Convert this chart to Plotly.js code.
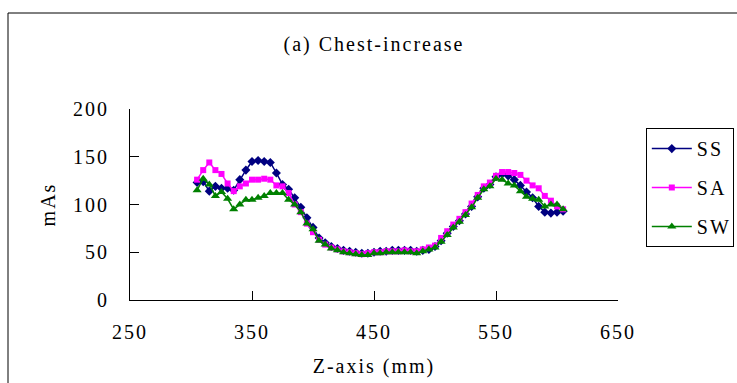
<!DOCTYPE html>
<html>
<head>
<meta charset="utf-8">
<script src="https://cdn.plot.ly/plotly-3.0.1.min.js"></script>
<style>
  html, body { margin: 0; padding: 0; background: #fff; }
  #chart { width: 737px; height: 383px; }
  #chart svg text { letter-spacing: 2px; }
</style>
</head>
<body>
<div id="chart"></div>
<script>
const zAxis = [305,310,315,320,325,330,335,340,345,350,355,360,365,370,375,380,385,390,395,400,
  405,410,415,420,425,430,435,440,445,450,455,460,465,470,475,480,485,490,495,500,
  505,510,515,520,525,530,535,540,545,550,555,560,565,570,575,580,585,590,595,600,605];

const ss = [123,124,114,119,117,117,115,126,136,145,146,145,144,133,121,116,107,97,86,76,
  65,60,56,54,52,51,50,49,49,50,51,51,52,52,52,52,51,52,53,56,
  62,70,77,83,90,98,108,117,121,129,132,130,126,120,113,107,98,92,91,92,93];

const sa = [126,136,144,136,132,122,114,119,122,126,126,127,126,120,119,112,100,92,80,71,
  63,58,55,53,51,50,49,48,49,50,50,51,51,51,52,51,51,53,55,57,
  65,72,79,85,92,101,110,119,123,130,134,134,133,131,125,120,117,109,104,98,95];

const sw = [115,127,121,109,113,106,95,100,105,105,107,109,112,112,112,105,100,92,80,74,
  62,58,54,52,50,49,48,47,47,49,49,50,50,50,50,50,49,51,53,55,
  61,68,76,82,89,97,107,116,119,127,126,122,120,114,108,106,105,98,100,100,95];

const seriesNames = ['SS', 'SA', 'SW'];
const xTicks = [250, 350, 450, 550, 650];
const yTicks = [0, 50, 100, 150, 200];

const font = 'Liberation Serif, Times New Roman, serif';

const traces = [
  {x: zAxis, y: ss, name: seriesNames[0], legendgroup: 'a', mode: 'lines+markers',
   line: {color: '#000080', width: 1.5}, marker: {symbol: 'diamond', size: 7, color: '#000080'}},
  {x: zAxis, y: sa, name: seriesNames[1], legendgroup: 'b', mode: 'lines+markers',
   line: {color: '#FF00FF', width: 1.5}, marker: {symbol: 'square', size: 6, color: '#FF00FF'}},
  {x: zAxis, y: sw, name: seriesNames[2], legendgroup: 'c', mode: 'lines+markers',
   line: {color: '#008000', width: 1.5}, marker: {symbol: 'triangle-up', size: 8, color: '#008000'}}
];

const layout = {
  width: 737, height: 383,
  margin: {l: 130, r: 119, t: 109, b: 83, autoexpand: false},
  paper_bgcolor: '#fff', plot_bgcolor: '#fff',
  font: {family: font, size: 20, color: '#000'},
  title: {text: '(a) Chest-increase', font: {family: font, size: 20, color: '#000'},
          x: 0.5, xref: 'paper', xanchor: 'center', y: 0.885, yref: 'container', yanchor: 'middle'},
  xaxis: {
    range: [250, 650], tickvals: xTicks, ticktext: xTicks.map(String),
    showgrid: false, zeroline: false, showline: true, linecolor: '#000', linewidth: 1,
    ticks: 'inside', ticklen: 9, tickcolor: '#000', tickwidth: 1,
    ticklabelstandoff: 14,
    tickfont: {family: font, size: 20, color: '#000'},
    title: {text: 'Z-axis (mm)', font: {family: font, size: 20, color: '#000'}, standoff: 16}
  },
  yaxis: {
    range: [0, 200], tickvals: yTicks, ticktext: yTicks.map(String),
    showgrid: false, zeroline: false, showline: true, linecolor: '#000', linewidth: 1,
    ticks: 'inside', ticklen: 9, tickcolor: '#000', tickwidth: 1,
    ticklabelstandoff: 16,
    tickfont: {family: font, size: 20, color: '#000'},
    title: {text: 'mAs', font: {family: font, size: 20, color: '#000'}, standoff: 18}
  },
  legend: {
    x: 1.057, xanchor: 'left', y: 0.90, yanchor: 'top',
    bgcolor: '#fff', bordercolor: '#000', borderwidth: 1,
    font: {family: font, size: 20, color: '#000'},
    traceorder: 'grouped', tracegroupgap: 10, itemwidth: 40
  },
  shapes: [
    {type: 'rect', xref: 'paper', yref: 'paper', x0: -0.25, x1: 1.4, y0: -0.6, y1: 1.5026,
     line: {color: '#000', width: 1}, fillcolor: 'rgba(0,0,0,0)', layer: 'below'}
  ],
  showlegend: true
};

Plotly.newPlot('chart', traces, layout, {displayModeBar: false, staticPlot: true});
</script>
</body>
</html>
